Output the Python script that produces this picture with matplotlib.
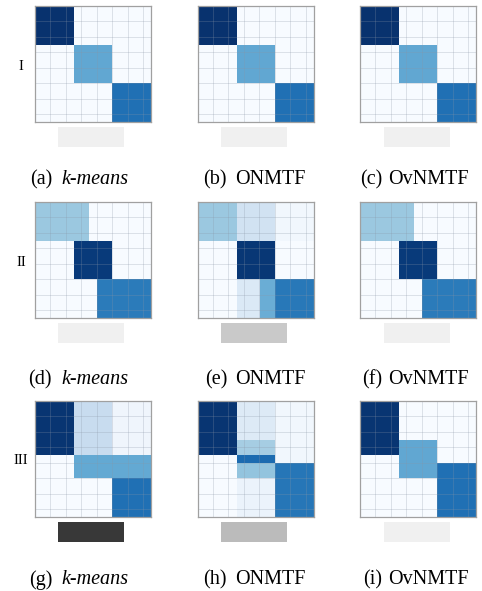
import matplotlib.pyplot as plt
import numpy as np

plt.rcParams["font.family"] = ["Liberation Serif", "DejaVu Serif"]

# Data
N = 150  # samples per axis
panel_tags = ["(a)", "(b)", "(c)", "(d)", "(e)", "(f)", "(g)", "(h)", "(i)"]
methods = ["k-means", "ONMTF", "OvNMTF"]
settings = ["I", "II", "III"]

# co-cluster blocks: (row_start, row_end, col_start, col_end, intensity)
blocks_a = [(0, 50, 0, 50, 0.99), (50, 100, 50, 100, 0.53), (100, 150, 100, 150, 0.75)]
blocks_b = [(0, 50, 0, 50, 0.99), (50, 100, 50, 100, 0.53), (100, 150, 100, 150, 0.75)]
blocks_c = [(0, 50, 0, 50, 0.99), (50, 100, 50, 100, 0.53), (100, 150, 100, 150, 0.75)]
blocks_d = [(0, 50, 0, 70, 0.38), (50, 100, 50, 100, 0.96), (100, 150, 80, 150, 0.71)]
blocks_e = [(0, 50, 0, 50, 0.38), (0, 50, 50, 100, 0.19), (0, 50, 100, 150, 0.03),
            (50, 100, 50, 100, 0.97), (100, 150, 50, 80, 0.14),
            (100, 150, 80, 100, 0.5), (100, 150, 100, 150, 0.72)]
blocks_f = [(0, 50, 0, 70, 0.38), (50, 100, 50, 100, 0.96), (100, 150, 80, 150, 0.71)]
blocks_g = [(0, 70, 0, 50, 0.98), (0, 70, 50, 100, 0.24), (0, 70, 100, 150, 0.04),
            (70, 100, 50, 150, 0.52), (100, 150, 100, 150, 0.75)]
blocks_h = [(0, 70, 0, 50, 0.98), (0, 50, 50, 100, 0.13), (0, 80, 100, 150, 0.03),
            (50, 70, 50, 100, 0.35), (70, 80, 50, 100, 0.77), (80, 100, 50, 100, 0.4),
            (100, 150, 50, 100, 0.06), (80, 150, 100, 150, 0.73)]
blocks_i = [(0, 70, 0, 50, 0.98), (50, 100, 50, 100, 0.53), (80, 150, 100, 150, 0.75)]
all_blocks = [blocks_a, blocks_b, blocks_c, blocks_d, blocks_e,
              blocks_f, blocks_g, blocks_h, blocks_i]

# grey indicator under each map (Greys scale)
bar_shade = [0.12, 0.12, 0.12, 0.12, 0.32, 0.12, 0.82, 0.38, 0.12]

# --- layout in pixels ---
W, H = 482, 591
col_x = [35, 197.5, 360]
row_y = [6, 202, 401]
size = 116
bar_cx = [91, 254, 417]
bar_w, bar_h = 66, 20
cap_y = [180, 380, 580]
tag_end = [52, 227, 382]
name_start = [61, 235, 388]


def box(x, y, w, h):
    return [x / W, 1 - (y + h) / H, w / W, h / H]


fig = plt.figure(figsize=(W / 100, H / 100), dpi=100)
fig.patch.set_facecolor("white")

for k, blocks in enumerate(all_blocks):
    r, c = divmod(k, 3)
    M = np.zeros((N, N))
    for r0, r1, c0, c1, v in blocks:
        M[r0:r1, c0:c1] = v

    ax = fig.add_axes(box(col_x[c], row_y[r], size, size))
    ax.imshow(M, cmap="Blues", vmin=0, vmax=1, aspect="auto",
              interpolation="nearest", extent=(0, N, N, 0))
    ax.set_xticks(np.arange(20, N, 20))
    ax.set_yticks(np.arange(20, N, 20))
    ax.grid(True, color="#8a96a6", alpha=0.3, linewidth=0.6)
    ax.tick_params(length=0, labelbottom=False, labelleft=False)
    for sp in ax.spines.values():
        sp.set_color("#a0a0a0")
        sp.set_linewidth(0.9)

    # indicator bar
    bx = fig.add_axes(box(bar_cx[c] - bar_w / 2, row_y[r] + size + 5, bar_w, bar_h))
    bx.imshow([[bar_shade[k]]], cmap="Greys", vmin=0, vmax=1, aspect="auto")
    bx.axis("off")

    # caption
    fy = 1 - cap_y[r] / H
    fig.text(tag_end[c] / W, fy, panel_tags[k], fontsize=14.5, ha="right", va="center")
    fig.text(name_start[c] / W, fy, methods[c], fontsize=14.5, ha="left", va="center",
             style="italic" if c == 0 else "normal")

for r, name in enumerate(settings):
    fig.text(21 / W, 1 - (row_y[r] + size / 2 + 2) / H, name, fontsize=10.5,
             ha="center", va="center")

plt.savefig("out.png", dpi=100)
